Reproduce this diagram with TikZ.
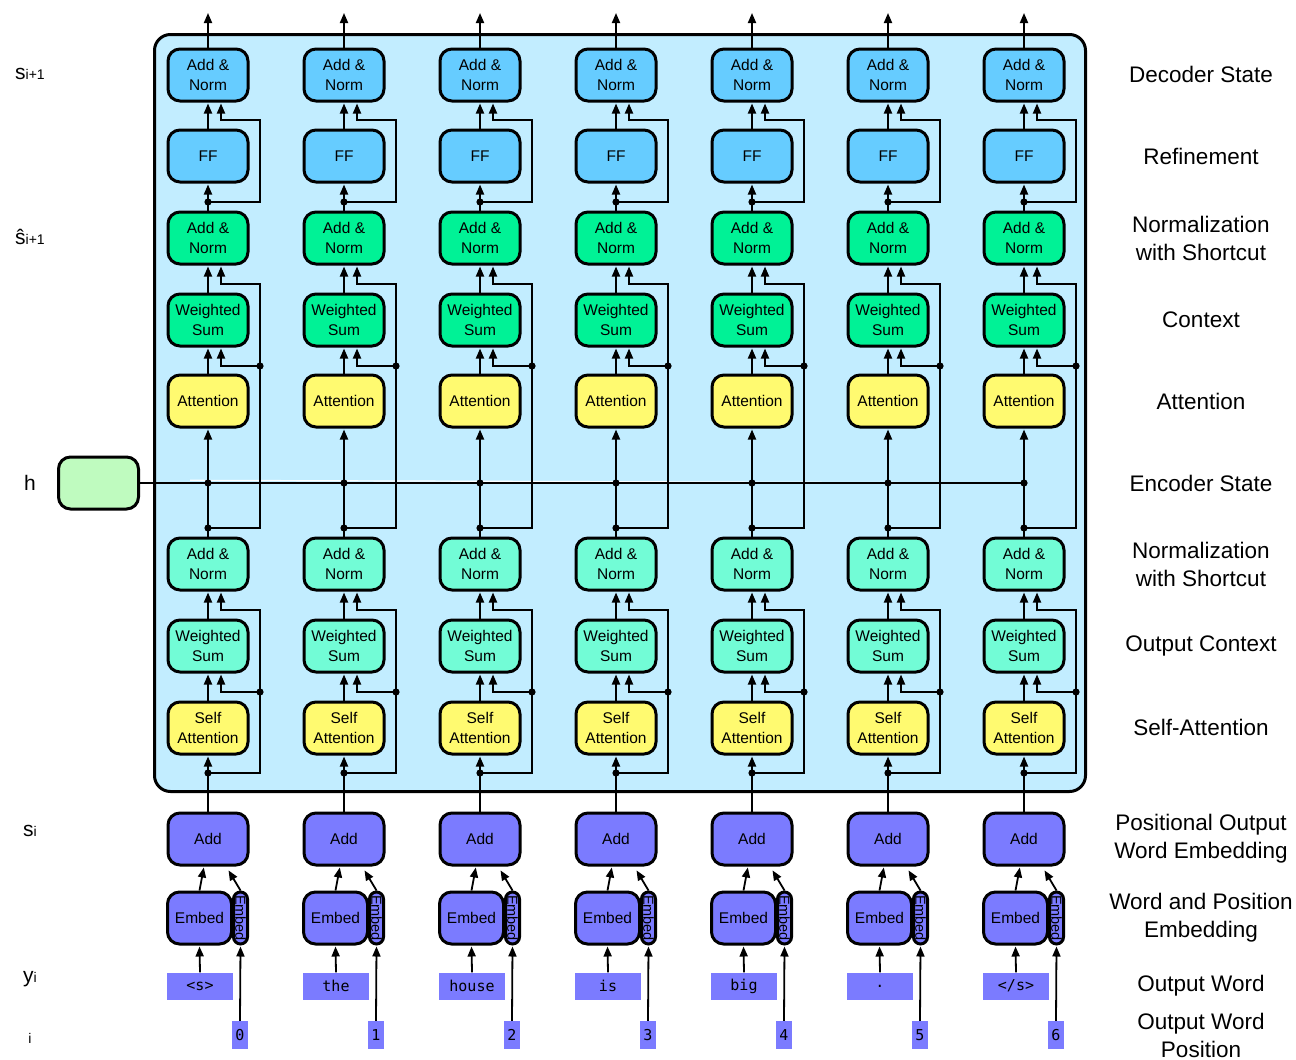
\documentclass[tikz,border=0pt]{standalone}
\usepackage{fontspec}
\setmainfont{Liberation Sans}
\setmonofont{DejaVu Sans Mono}
\usetikzlibrary{arrows.meta}
\definecolor{cbox}{HTML}{C2EDFF}
\definecolor{cblue}{HTML}{66CCFF}
\definecolor{cgreen}{HTML}{00F296}
\definecolor{cyel}{HTML}{FFFA70}
\definecolor{cteal}{HTML}{72FCD6}
\definecolor{cpurp}{HTML}{7B7BFF}
\definecolor{chgreen}{HTML}{BFFBBF}
\newcommand{\wordof}[1]{\ifcase#1 <s>\or the\or house\or is\or big\or .\or </s>\fi}
\tikzset{
  blk/.style={draw, line width=3pt, rounded corners=12pt, minimum width=80pt, minimum height=52pt,
    align=center, inner sep=0pt, font=\fontsize{15.5}{20}\selectfont},
  con/.style={line width=1.8pt, -{Triangle[length=10pt,width=8pt]}, shorten >=1pt},
  wire/.style={line width=1.8pt},
  lbl/.style={align=center, font=\fontsize{22.5}{28}\selectfont},
  lft/.style={anchor=base, font=\fontsize{21}{24}\selectfont},
  wbox/.style={fill=cpurp, inner sep=0pt, minimum height=27pt, font=\ttfamily\fontsize{15}{15}\selectfont},
}
\newcommand{\sm}[1]{{\fontsize{14}{14}\selectfont #1}}
\begin{document}
\begin{tikzpicture}[x=1pt,y=-1pt]
\useasboundingbox (0,0) rectangle (1296,1060);
% big box
\draw[line width=3pt, fill=cbox, rounded corners=16pt] (154.5,34.5) rectangle (1085.5,791.5);
% encoder state
\node[blk, fill=chgreen] (h) at (98.5,483) {};
\coordinate (hend) at (1024,483);
\draw[white, line width=1.2pt] (190,480.3) -- (hend);
\draw[wire] (h.east) -- (hend);
\foreach \k in {0,...,6}{
  \pgfmathsetmacro{\cx}{208+136*\k}
  \node[blk, fill=cblue] (ant\k) at (\cx,75) {Add \&\\Norm};
  \node[blk, fill=cblue] (ff\k) at (\cx,156) {FF};
  \node[blk, fill=cgreen] (anm\k) at (\cx,238) {Add \&\\Norm};
  \node[blk, fill=cgreen] (wsm\k) at (\cx,320) {Weighted\\Sum};
  \node[blk, fill=cyel] (att\k) at (\cx,401) {Attention};
  \node[blk, fill=cteal] (anb\k) at (\cx,564) {Add \&\\Norm};
  \node[blk, fill=cteal] (wsb\k) at (\cx,646) {Weighted\\Sum};
  \node[blk, fill=cyel] (sa\k) at (\cx,728) {Self\\Attention};
  \node[blk, fill=cpurp] (add\k) at (\cx,839) {Add};
  \node[blk, fill=cpurp, minimum width=64pt] (emb\k) at (\cx-8.5,918) {Embed};
  \node[draw, line width=3pt, fill=cpurp, rounded corners=7pt, minimum width=14pt, minimum height=52pt,
        inner sep=0pt, font=\fontsize{14.5}{14}\selectfont] (pe\k) at (\cx+32.5,918) {\rotatebox{-90}{Embed}};
  \node[wbox, minimum width=66pt] (w\k) at (\cx-8,986) {\wordof{\k}};
  \node[wbox, minimum width=16pt, minimum height=28pt] (i\k) at (\cx+32,1035) {\k};
  \coordinate (top\k) at (\cx,12);
  \coordinate (da\k) at (\cx,202);
  \coordinate (db\k) at (\cx,528);
  \coordinate (dh\k) at (\cx,483);
  \coordinate (dc\k) at (\cx,773);
  \coordinate (ra\k) at (\cx+52,366);
  \coordinate (rb\k) at (\cx+52,692);
  % upper block
  \draw[con] (ant\k.north) -- (top\k);
  \draw[con] (ff\k.north) -- (ant\k.south);
  \draw[con] (da\k) -| (\cx+52,120) -| ([xshift=13pt]ant\k.south);
  \draw[con] (anm\k.north) -- (ff\k.south);
  \draw[con] (wsm\k.north) -- (anm\k.south);
  \draw[con] (db\k) -| (\cx+52,284) -| ([xshift=13pt]anm\k.south);
  \draw[con] (ra\k) -| ([xshift=13pt]wsm\k.south);
  \draw[con] (att\k.north) -- (wsm\k.south);
  \draw[con] (anb\k.north) -- (att\k.south);
  % lower block
  \draw[con] (wsb\k.north) -- (anb\k.south);
  \draw[con] (dc\k) -| (\cx+52,610) -| ([xshift=13pt]anb\k.south);
  \draw[con] (rb\k) -| ([xshift=13pt]wsb\k.south);
  \draw[con] (sa\k.north) -- (wsb\k.south);
  \draw[con] (add\k.north) -- (sa\k.south);
  % embedding
  \draw[con] (emb\k.north) -- ([xshift=-4pt]add\k.south);
  \draw[con] (pe\k.north) -- ([xshift=20pt,yshift=-3pt]add\k.south);
  \draw[con] (w\k.north) -- (emb\k.south);
  \draw[con] (i\k.north) -- (pe\k.south);
  % dots
  \foreach \d in {da\k,db\k,dh\k,dc\k,ra\k,rb\k}{\fill (\d) circle (3.6pt);}
}
% left labels
\node[lft] (ls1) at (30,79) {s\sm{i+1}};
\node[lft] (ls2) at (30,244) {ŝ\sm{i+1}};
\node[lft] (lh) at (30,490) {h};
\node[lft] (lsi) at (30,836) {s\sm{i}};
\node[lft] (lyi) at (30,982) {y\sm{i}};
\node[anchor=base, font=\fontsize{14}{14}\selectfont] (li) at (30,1043) {i};
% right labels
\node[lbl] (r1) at (1201,74) {Decoder State};
\node[lbl] (r2) at (1201,156) {Refinement};
\node[lbl] (r3) at (1201,238) {Normalization\\with Shortcut};
\node[lbl] (r4) at (1201,320) {Context};
\node[lbl] (r5) at (1201,401) {Attention};
\node[lbl] (r6) at (1201,483) {Encoder State};
\node[lbl] (r7) at (1201,564) {Normalization\\with Shortcut};
\node[lbl] (r8) at (1201,646) {Output Context};
\node[lbl] (r9) at (1201,727) {Self-Attention};
\node[lbl] (r10) at (1201,839) {Positional Output\\Word Embedding};
\node[lbl] (r11) at (1201,918) {Word and Position\\Embedding};
\node[lbl] (r12) at (1201,986) {Output Word};
\node[lbl] (r13) at (1201,1035) {Output Word\\Position};
\end{tikzpicture}
\end{document}
